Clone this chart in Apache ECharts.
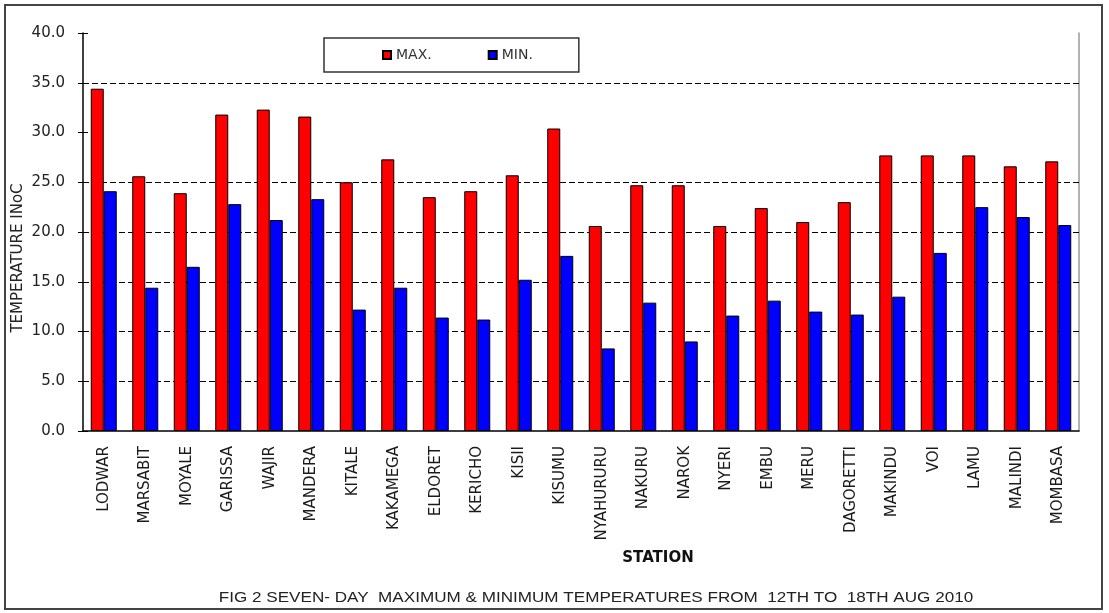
<!DOCTYPE html>
<html>
<head>
<meta charset="utf-8">
<title>Seven-day max & min temperatures</title>
<script src="https://cdn.jsdelivr.net/npm/echarts@6/dist/echarts.min.js"></script>
<style>
  html, body { margin: 0; padding: 0; background: #fff; }
  #chart { width: 1109px; height: 613px; }
</style>
</head>
<body>
<div id="chart"></div>
<script>
const stations = [
  "LODWAR", "MARSABIT", "MOYALE", "GARISSA", "WAJIR", "MANDERA",
  "KITALE", "KAKAMEGA", "ELDORET", "KERICHO", "KISII", "KISUMU",
  "NYAHURURU", "NAKURU", "NAROK", "NYERI", "EMBU", "MERU",
  "DAGORETTI", "MAKINDU", "VOI", "LAMU", "MALINDI", "MOMBASA",
];
const maxTemps = [
  34.4, 25.6, 23.9, 31.8, 32.3, 31.6, 25.0, 27.3, 23.5, 24.1, 25.7, 30.4,
  20.6, 24.7, 24.7, 20.6, 22.4, 21.0, 23.0, 27.7, 27.7, 27.7, 26.6, 27.1,
];
const minTemps = [
  24.1, 14.4, 16.5, 22.8, 21.2, 23.3, 12.2, 14.4, 11.4, 11.2, 15.2, 17.6,
  8.3, 12.9, 9.0, 11.6, 13.1, 12.0, 11.7, 13.5, 17.9, 22.5, 21.5, 20.7,
];
// dashed grid levels as drawn in the source (no line at 30)
const gridLevels = [5, 10, 15, 20, 25, 35];

const FONT = "DejaVu Sans";
const yRange = { min: 0, max: 40, interval: 5 };

const chart = echarts.init(document.getElementById("chart"), null, { renderer: "canvas" });

chart.setOption({
  animation: false,
  backgroundColor: "#fff",
  grid: { left: 83, right: 30, top: 33, bottom: 182 },
  legend: {
    left: 324,
    top: 38,
    padding: [10, 46, 10, 58],
    itemGap: 56,
    itemWidth: 8,
    itemHeight: 8,
    icon: "rect",
    borderColor: "#333",
    borderWidth: 1.5,
    backgroundColor: "#fff",
    textStyle: { fontFamily: FONT, fontSize: 14, color: "#333" },
  },
  xAxis: {
    type: "category",
    data: stations,
    axisLine: { lineStyle: { color: "#000", width: 1.5 } },
    axisTick: { length: 3, lineStyle: { color: "#000" } },
    axisLabel: {
      rotate: 90,
      margin: 15,
      interval: 0,
      fontFamily: FONT,
      fontSize: 15,
      color: "#1a1a1a",
    },
  },
  yAxis: [
    {
      type: "value",
      ...yRange,
      axisLine: { show: true, lineStyle: { color: "#000", width: 1.5 } },
      axisTick: { show: true, length: 5, lineStyle: { color: "#000" } },
      axisLabel: {
        margin: 18,
        fontFamily: FONT,
        fontSize: 15,
        color: "#222",
        formatter: (v) => v.toFixed(1),
      },
      splitLine: { show: false },
    },
    {
      // inner half of the crossing tick marks
      type: "value",
      position: "left",
      ...yRange,
      axisLine: { show: false },
      axisTick: { show: true, inside: true, length: 5, lineStyle: { color: "#000" } },
      axisLabel: { show: false },
      splitLine: { show: false },
    },
    {
      // right border of the plot area
      type: "value",
      position: "right",
      ...yRange,
      axisLine: { show: true, lineStyle: { color: "#999", width: 1.5 } },
      axisTick: { show: false },
      axisLabel: { show: false },
      splitLine: { show: false },
    },
  ],
  series: [
    {
      name: "MAX.",
      type: "bar",
      data: maxTemps,
      barWidth: 13,
      barGap: "0%",
      itemStyle: { color: "#ff0000", borderColor: "#000", borderWidth: 1 },
      markLine: {
        z: 1,
        silent: true,
        symbol: "none",
        label: { show: false },
        lineStyle: { color: "#000", width: 1, type: [6, 3] },
        data: gridLevels.map((v) => ({ yAxis: v })),
      },
    },
    {
      name: "MIN.",
      type: "bar",
      data: minTemps,
      barWidth: 13,
      itemStyle: { color: "#0000ff", borderColor: "#000", borderWidth: 1 },
    },
  ],
  graphic: [
    {
      type: "rect",
      shape: { x: 5, y: 5, width: 1097, height: 604 },
      style: { fill: null, stroke: "#444", lineWidth: 2 },
      silent: true,
    },
    {
      type: "text",
      x: 18,
      y: 258,
      rotation: Math.PI / 2,
      style: {
        text: "TEMPERATURE INoC",
        font: `15px "${FONT}"`,
        fill: "#222",
        align: "center",
        verticalAlign: "middle",
      },
    },
    {
      type: "text",
      x: 658,
      y: 558,
      style: {
        text: "STATION",
        font: `bold 15px "${FONT}"`,
        fill: "#111",
        align: "center",
        verticalAlign: "middle",
      },
    },
    {
      type: "text",
      x: 596,
      y: 598,
      scaleX: 1.14,
      style: {
        text: "FIG 2 SEVEN- DAY  MAXIMUM & MINIMUM TEMPERATURES FROM  12TH TO  18TH AUG 2010",
        font: '15px "Liberation Sans"',
        fill: "#222",
        align: "center",
        verticalAlign: "middle",
      },
    },
  ],
});

window.addEventListener("resize", () => chart.resize());
</script>
</body>
</html>
